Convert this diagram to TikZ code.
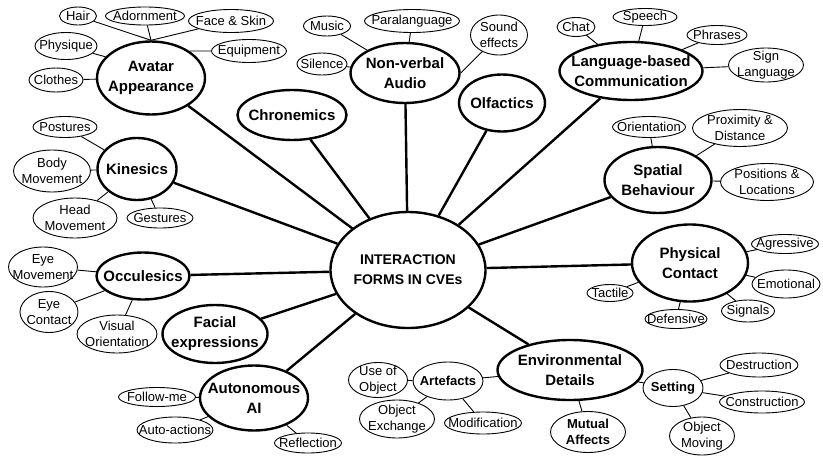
\documentclass[tikz,border=0pt]{standalone}
\usepackage{fontspec}
\setmainfont{Liberation Sans}
\usetikzlibrary{shapes.geometric}
\tikzset{
    hub/.style={ellipse, draw, line width=2.4pt, inner sep=-30pt, align=center, font=\fontsize{14}{20}\selectfont\bfseries},
    topic/.style={ellipse, draw, line width=2.4pt, inner sep=-30pt, align=center, font=\fontsize{15}{20}\selectfont\bfseries},
    subtopic/.style={ellipse, draw, line width=0.9pt, inner sep=-30pt, align=center, font=\fontsize{13}{16}\selectfont\bfseries},
    leaf/.style={ellipse, draw, line width=0.9pt, inner sep=-30pt, align=center, font=\fontsize{13}{16}\selectfont},
    wh/.style 2 args={minimum width=#1, minimum height=#2},
    spoke/.style={draw, line width=2.4pt},
    twig/.style={draw, line width=0.9pt}
}
\begin{document}
\begin{tikzpicture}[x=1pt, y=-1pt]
    \useasboundingbox (0,0) rectangle (823,458);
    % Nodes
    \node[hub, wh={155}{116}] (cve) at (408,270) {INTERACTION\\FORMS IN CVEs};

    \node[topic, wh={108}{73}] (avatar) at (151,78) {Avatar\\Appearance};
    \node[topic, wh={109}{50}] (chronemics) at (292,115) {Chronemics};
    \node[topic, wh={109}{60}] (audio) at (405,73) {Non-verbal\\Audio};
    \node[topic, wh={86}{57}] (olfactics) at (502,103) {Olfactics};
    \node[topic, wh={143}{58}] (language) at (631,71) {Language-based\\Communication};
    \node[topic, wh={107}{66}] (spatial) at (658,180) {Spatial\\Behaviour};
    \node[topic, wh={116}{77}] (physical) at (690,263) {Physical\\Contact};
    \node[topic, wh={145}{60}] (environment) at (570,370) {Environmental\\Details};
    \node[topic, wh={108}{65}] (autonomous) at (254,398) {Autonomous\\AI};
    \node[topic, wh={105}{58}] (facial) at (215,334) {Facial\\expressions};
    \node[topic, wh={93}{47}] (occulesics) at (143,276) {Occulesics};
    \node[topic, wh={79}{62}] (kinesics) at (137,169) {Kinesics};

    \node[leaf, wh={37}{18}] (hair) at (78,16) {Hair};
    \node[leaf, wh={79}{18}] (adornment) at (145,16) {Adornment};
    \node[leaf, wh={85}{23}] (faceskin) at (231,21) {Face \& Skin};
    \node[leaf, wh={62}{27}] (physique) at (66,46) {Physique};
    \node[leaf, wh={75}{23}] (equipment) at (249,51) {Equipment};
    \node[leaf, wh={54}{24}] (clothes) at (56,80) {Clothes};

    \node[leaf, wh={47}{20}] (music) at (327,26) {Music};
    \node[leaf, wh={95}{23}] (paralanguage) at (412,21) {Paralanguage};
    \node[leaf, wh={57}{40}] (soundfx) at (499,35) {Sound\\effects};
    \node[leaf, wh={50}{22}] (silence) at (322,64) {Silence};

    \node[leaf, wh={38}{19}] (chat) at (576,27) {Chat};
    \node[leaf, wh={64}{17}] (speech) at (645,17) {Speech};
    \node[leaf, wh={60}{19}] (phrases) at (717,35) {Phrases};
    \node[leaf, wh={75}{34}] (signlang) at (766,65) {Sign\\Language};

    \node[leaf, wh={73}{21}] (orientation) at (649,127) {Orientation};
    \node[leaf, wh={95}{37}] (proximity) at (740,128) {Proximity \&\\Distance};
    \node[leaf, wh={93}{37}] (positions) at (767,182) {Positions \&\\Locations};

    \node[leaf, wh={67}{19}] (agressive) at (785,244) {Agressive};
    \node[leaf, wh={68}{28}] (emotional) at (786,284) {Emotional};
    \node[leaf, wh={53}{22}] (signals) at (748,311) {Signals};
    \node[leaf, wh={62}{19}] (defensive) at (676,319) {Defensive};
    \node[leaf, wh={46}{17}] (tactile) at (610,293) {Tactile};

    \node[subtopic, wh={70}{38}] (artefacts) at (448,381) {Artefacts};
    \node[subtopic, wh={75}{41}] (mutual) at (588,432) {Mutual\\Affects};
    \node[subtopic, wh={60}{37}] (setting) at (673,388) {Setting};

    \node[leaf, wh={59}{35}] (useobj) at (378,380) {Use of\\Object};
    \node[leaf, wh={75}{38}] (objexch) at (397,419) {Object\\Exchange};
    \node[leaf, wh={77}{22}] (modification) at (483,423) {Modification};

    \node[leaf, wh={78}{24}] (destruction) at (759,365) {Destruction};
    \node[leaf, wh={85}{22}] (construction) at (762,402) {Construction};
    \node[leaf, wh={65}{38}] (objmoving) at (702,436) {Object\\Moving};

    \node[leaf, wh={77}{19}] (followme) at (157,397) {Follow-me};
    \node[leaf, wh={76}{26}] (autoactions) at (175,430) {Auto-actions};
    \node[leaf, wh={67}{20}] (reflection) at (308,443) {Reflection};

    \node[leaf, wh={64}{21}] (postures) at (65,127) {Postures};
    \node[leaf, wh={77}{42}] (bodymove) at (52,171) {Body\\Movement};
    \node[leaf, wh={84}{40}] (headmove) at (75,218) {Head\\Movement};
    \node[leaf, wh={66}{20}] (gestures) at (160,218) {Gestures};

    \node[leaf, wh={69}{40}] (eyemove) at (43,267) {Eye\\Movement};
    \node[leaf, wh={58}{41}] (eyecontact) at (49,312) {Eye\\Contact};
    \node[leaf, wh={80}{38}] (visualorient) at (117,334) {Visual\\Orientation};

    % edges
    \draw[spoke] (cve) -- (avatar);
    \draw[spoke] (cve) -- (chronemics);
    \draw[spoke] (cve) -- (audio);
    \draw[spoke] (cve) -- (olfactics);
    \draw[spoke] (cve) -- (language);
    \draw[spoke] (cve) -- (spatial);
    \draw[spoke] (cve) -- (physical);
    \draw[spoke] (cve) -- (environment);
    \draw[spoke] (cve) -- (autonomous);
    \draw[spoke] (cve) -- (facial);
    \draw[spoke] (cve) -- (occulesics);
    \draw[spoke] (cve) -- (kinesics);

    \draw[twig] (hair) -- (avatar.north);
    \draw[twig] (adornment) -- (avatar.north);
    \draw[twig] (faceskin) -- (avatar.north);
    \draw[twig] (physique) -- (avatar.155);
    \draw[twig] (equipment) -- (avatar.35);
    \draw[twig] (clothes) -- (avatar);

    \draw[twig] (music) -- (audio);
    \draw[twig] (paralanguage) -- (audio);
    \draw[twig] (soundfx) -- (audio.east);
    \draw[twig] (silence) -- (audio);

    \draw[twig] (chat) -- (language);
    \draw[twig] (speech) -- (language);
    \draw[twig] (phrases) -- (language);
    \draw[twig] (signlang) -- (language);

    \draw[twig] (orientation) -- (spatial);
    \draw[twig] (proximity) -- (spatial);
    \draw[twig] (positions) -- (spatial);

    \draw[twig] (agressive) -- (physical);
    \draw[twig] (emotional) -- (physical);
    \draw[twig] (signals) -- (physical);
    \draw[twig] (defensive) -- (physical);
    \draw[twig] (tactile) -- (physical);

    \draw[twig] (artefacts) -- (environment);
    \draw[twig] (mutual) -- (environment);
    \draw[twig] (setting) -- (environment);

    \draw[twig] (useobj) -- (artefacts);
    \draw[twig] (objexch) -- (artefacts);
    \draw[twig] (modification) -- (artefacts);

    \draw[twig] (destruction) -- (setting);
    \draw[twig] (construction) -- (setting);
    \draw[twig] (objmoving) -- (setting);

    \draw[twig] (followme) -- (autonomous);
    \draw[twig] (autoactions) -- (autonomous);
    \draw[twig] (reflection) -- (autonomous);

    \draw[twig] (postures) -- (kinesics);
    \draw[twig] (bodymove) -- (kinesics);
    \draw[twig] (headmove) -- (kinesics);
    \draw[twig] (gestures) -- (kinesics);

    \draw[twig] (eyemove) -- (occulesics);
    \draw[twig] (eyecontact) -- (occulesics);
    \draw[twig] (visualorient) -- (occulesics);
\end{tikzpicture}
\end{document}
